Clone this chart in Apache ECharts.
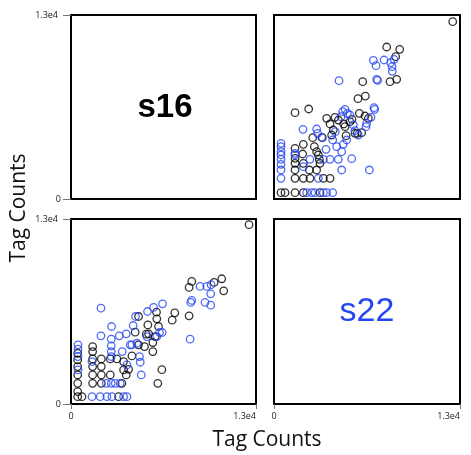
<!DOCTYPE html>
<html>
<head>
<meta charset="utf-8">
<script src="https://cdn.jsdelivr.net/npm/echarts@6/dist/echarts.min.js"></script>
<style>
html,body{margin:0;padding:0;background:#fff;}
#c{width:471px;height:455px;}
</style>
</head>
<body>
<div id="c"></div>
<script>
// Axis range and tick labels
const axisMin = 0;
const axisMax = 13000;
const tickLabels = ['0', '1.3e4'];
const sampleNames = ['s16', 's22'];
const axisTitle = 'Tag Counts';

// Top-right panel (x = s22, y = s16)
const trBlack = [
  [12490,12530],[7875,10740],[8785,10575],[8505,10055],[8575,8455],[8110,8290],[6200,8290],
  [5870,7090],[6385,7275],[1470,6100],[2425,6360],[3680,5700],[4265,5770],[4870,5300],
  [5450,5630],[5965,6050],[6360,5865],[6595,5700],[3915,5300],[4145,4875],[4030,4520],
  [5035,4475],[6130,4685],[5825,4640],[2705,4335],[3380,4335],[2820,3700],[2050,3860],
  [2005,3180],[3100,3110],[3170,2800],[3215,2520],[1470,3580],[1470,2875],[1470,2520],
  [1470,2050],[2050,2520],[2470,2050],[2980,2050],[1470,1460],[2050,1460],[2515,1460],
  [3450,1460],[3915,1460],[490,450],[770,450],[1470,450],[2050,450],[3215,450],
  [2980,3345],[4965,5110],[5310,5465],[4500,5580],[5660,4640]
];
const trBlue = [
  [6945,9800],[7130,9420],[7690,9820],[8155,9630],[8250,9350],[8270,9020],[8390,9865],
  [7175,8455],[7245,8385],[4545,8360],[4800,6170],[4965,6335],[5125,6050],[4685,5815],
  [5310,5935],[6990,6455],[7035,6335],[6780,5770],[6475,5345],[6430,5110],[5545,5230],
  [5660,4830],[5895,4520],[4285,4755],[4100,4170],[3635,3510],[4845,3860],[4730,3345],
  [5430,2850],[4730,2050],[6665,2050],[2025,4920],[2980,4945],[3050,4640],[3330,4355],
  [490,3935],[490,3695],[490,3345],[490,3110],[490,2800],[490,2450],[490,2050],[490,1460],
  [1470,3225],[1470,3110],[2050,2285],[2515,2800],[3450,2800],[3915,2800],[4495,2800],
  [2635,450],[2865,450],[3450,450],[3680,450],[4100,450],[2285,450],[3100,1460],
  [4380,3695],[5080,4170]
];

// Bottom-left panel (x = s16, y = s22)
const blBlack = [
  [12510,12600],[8485,8615],[8300,8190],[10055,8545],[10590,8800],[10730,7955],[8300,6195],
  [7295,6405],[7110,5890],[4745,6150],[6010,6455],[6030,5985],[5400,5560],[6150,5445],
  [4510,5045],[5285,4905],[5450,4930],[5915,4740],[5750,4320],[5750,3685],[5165,4035],
  [4745,4155],[4280,3380],[6385,2415],[6100,1455],[1520,4035],[1520,3685],[1520,3170],
  [1520,2630],[1520,2040],[1520,1455],[2130,3170],[2130,2630],[2130,2040],[2130,1455],
  [2760,3170],[3225,3170],[3695,2980],[3695,2395],[4045,2440],[3880,2040],[3575,1455],
  [470,3565],[470,3100],[470,2630],[470,2040],[470,1455],[470,870],[470,515],
  [2760,2040],[3345,515],[770,515]
];
const blBlue = [
  [2105,6735],[8485,7275],[8415,7135],[9070,8260],[9540,8260],[9845,8380],[9820,7745],
  [9420,7135],[9820,6945],[8370,4555],[6430,7040],[5800,6785],[5375,6500],[4535,6150],
  [4370,5515],[2850,5445],[2105,4790],[2830,4555],[3390,4790],[3880,4930],[6220,5025],
  [6405,5025],[6030,4740],[4630,4270],[4160,4155],[4280,4155],[3600,3685],[2830,4085],
  [2830,3685],[2830,3335],[4865,2935],[4935,2040],[3930,2745],[490,4155],[490,3850],
  [490,3335],[490,2395],[2480,1455],[2830,1455],[3110,1455],[3460,1455],[1475,515],
  [2055,515],[2525,515],[2875,515],[3930,515],[3695,515],[1475,2980],[5330,4740],[4815,3335]
];

const BLACK = '#000000';
const BLUE = '#2445f2';

const grids = [
  {left: 71, top: 15, width: 185, height: 184},   // top-left
  {left: 274, top: 15, width: 186, height: 184},  // top-right
  {left: 71, top: 219, width: 185, height: 185},  // bottom-left
  {left: 274, top: 219, width: 186, height: 185}  // bottom-right
].map(g => Object.assign({show: true, borderColor: '#000', borderWidth: 2, backgroundColor: '#fff'}, g));

function fmtX(v) { return v === axisMin ? tickLabels[0] : tickLabels[1]; }
function fmtY(v) { return v === axisMin ? '{z|' + tickLabels[0] + '}' : '{m|' + tickLabels[1] + '}'; }

function axis(gridIndex, show, isY) {
  const a = {
    gridIndex: gridIndex, type: 'value', min: axisMin, max: axisMax, interval: axisMax,
    splitLine: {show: false},
    axisLine: {show: false},
    axisTick: {show: show, length: isY ? 8 : 5, lineStyle: {color: '#777', width: 1}},
    axisLabel: {show: show, fontSize: 9, color: '#222', fontFamily: 'Open Sans'}
  };
  if (isY) {
    a.axisLabel.formatter = fmtY;
    a.axisLabel.margin = 10;
    a.axisLabel.rich = {
      z: {fontSize: 9, color: '#222', fontFamily: 'Open Sans', padding: [0, 0, 0, 0]},
      m: {fontSize: 9, color: '#222', fontFamily: 'Open Sans', padding: [0, 3, 0, 0]}
    };
  } else {
    a.axisLabel.formatter = fmtX;
    a.axisLabel.margin = 8;
    a.axisLabel.alignMaxLabel = 'right';
  }
  return a;
}

function scatter(idx, data, color) {
  return {
    type: 'scatter', xAxisIndex: idx, yAxisIndex: idx, data: data,
    symbol: 'circle', symbolSize: 7.5, silent: true,
    itemStyle: {color: 'rgba(0,0,0,0)', borderColor: color, borderWidth: 1.3}
  };
}

const chart = echarts.init(document.getElementById('c'), null, {renderer: 'canvas'});
chart.setOption({
  animation: false,
  backgroundColor: '#fff',
  grid: grids,
  xAxis: [axis(0, false, false), axis(1, false, false), axis(2, true, false), axis(3, true, false)],
  yAxis: [axis(0, true, true), axis(1, false, true), axis(2, true, true), axis(3, false, true)],
  series: [
    scatter(1, trBlack, BLACK), scatter(1, trBlue, BLUE),
    scatter(2, blBlack, BLACK), scatter(2, blBlue, BLUE)
  ],
  graphic: [
    {type: 'text', x: 165, y: 108, style: {text: sampleNames[0], font: 'bold 33px "Liberation Sans"', fill: '#000', textAlign: 'center', textVerticalAlign: 'middle'}},
    {type: 'text', x: 367, y: 312, style: {text: sampleNames[1], font: '34px "Liberation Sans"', fill: BLUE, textAlign: 'center', textVerticalAlign: 'middle'}},
    {type: 'text', x: 267, y: 440, style: {text: axisTitle, font: '21px "Open Sans"', fill: '#111', textAlign: 'center', textVerticalAlign: 'middle'}},
    {type: 'text', x: 19, y: 208, rotation: Math.PI / 2, style: {text: axisTitle, font: '21px "Open Sans"', fill: '#111', textAlign: 'center', textVerticalAlign: 'middle'}}
  ]
});
</script>
</body>
</html>
